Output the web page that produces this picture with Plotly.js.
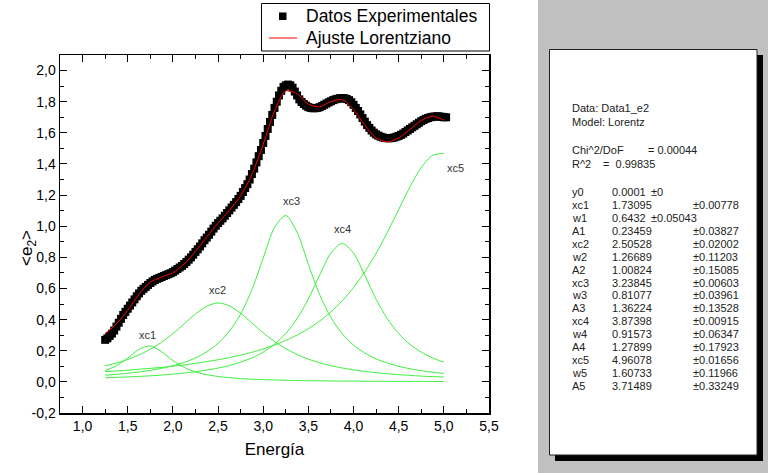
<!DOCTYPE html>
<html>
<head>
<meta charset="utf-8">
<script src="https://cdn.plot.ly/plotly-3.0.1.min.js"></script>
<style>
  html, body { margin: 0; padding: 0; background: #fff; }
  #plot { width: 768px; height: 473px; }
</style>
</head>
<body>
<div id="plot"></div>
<script>
// Experimental points (energy, <e2>), read every 0.025 eV
const xData = [
  1.25, 1.275, 1.30, 1.325, 1.35, 1.375, 1.40, 1.425, 1.45, 1.475,
  1.50, 1.525, 1.55, 1.575, 1.60, 1.625, 1.65, 1.675, 1.70, 1.725,
  1.75, 1.775, 1.80, 1.825, 1.85, 1.875, 1.90, 1.925, 1.95, 1.975,
  2.00, 2.025, 2.05, 2.075, 2.10, 2.125, 2.15, 2.175, 2.20, 2.225,
  2.25, 2.275, 2.30, 2.325, 2.35, 2.375, 2.40, 2.425, 2.45, 2.475,
  2.50, 2.525, 2.55, 2.575, 2.60, 2.625, 2.65, 2.675, 2.70, 2.725,
  2.75, 2.775, 2.80, 2.825, 2.85, 2.875, 2.90, 2.925, 2.95, 2.975,
  3.00, 3.025, 3.05, 3.075, 3.10, 3.125, 3.15, 3.175, 3.20, 3.225,
  3.25, 3.275, 3.30, 3.325, 3.35, 3.375, 3.40, 3.425, 3.45, 3.475,
  3.50, 3.525, 3.55, 3.575, 3.60, 3.625, 3.65, 3.675, 3.70, 3.725,
  3.75, 3.775, 3.80, 3.825, 3.85, 3.875, 3.90, 3.925, 3.95, 3.975,
  4.00, 4.025, 4.05, 4.075, 4.10, 4.125, 4.15, 4.175, 4.20, 4.225,
  4.25, 4.275, 4.30, 4.325, 4.35, 4.375, 4.40, 4.425, 4.45, 4.475,
  4.50, 4.525, 4.55, 4.575, 4.60, 4.625, 4.65, 4.675, 4.70, 4.725,
  4.75, 4.775, 4.80, 4.825, 4.85, 4.875, 4.90, 4.925, 4.95, 4.975,
  5.00, 5.025
];
const yData = [
  0.27, 0.28, 0.295, 0.31, 0.33, 0.355, 0.38, 0.405, 0.43, 0.45,
  0.47, 0.49, 0.51, 0.53, 0.55, 0.568, 0.585, 0.598, 0.61, 0.623,
  0.635, 0.645, 0.655, 0.662, 0.668, 0.674, 0.68, 0.686, 0.692, 0.698,
  0.705, 0.715, 0.725, 0.735, 0.745, 0.757, 0.77, 0.785, 0.80, 0.817,
  0.835, 0.852, 0.87, 0.89, 0.91, 0.927, 0.945, 0.965, 0.985, 1.003,
  1.02, 1.035, 1.05, 1.067, 1.085, 1.102, 1.12, 1.137, 1.155, 1.175,
  1.195, 1.22, 1.245, 1.27, 1.30, 1.335, 1.37, 1.41, 1.45, 1.49,
  1.535, 1.58, 1.625, 1.67, 1.715, 1.76, 1.80, 1.84, 1.87, 1.895,
  1.905, 1.91, 1.905, 1.89, 1.865, 1.84, 1.815, 1.798, 1.785, 1.774,
  1.765, 1.76, 1.758, 1.758, 1.76, 1.765, 1.772, 1.78, 1.788, 1.796,
  1.803, 1.81, 1.815, 1.819, 1.822, 1.823, 1.822, 1.817, 1.81, 1.797,
  1.78, 1.76, 1.74, 1.718, 1.695, 1.672, 1.65, 1.632, 1.615, 1.601,
  1.59, 1.582, 1.575, 1.57, 1.567, 1.565, 1.565, 1.567, 1.57, 1.575,
  1.58, 1.587, 1.595, 1.605, 1.615, 1.625, 1.635, 1.645, 1.655, 1.665,
  1.675, 1.683, 1.69, 1.695, 1.70, 1.703, 1.705, 1.706, 1.705, 1.703,
  1.70, 1.70
];

// Fit curve and the five Lorentz peaks, same energy grid
const xFit = [
  1.25, 1.375, 1.5, 1.625, 1.75, 1.875, 2.0, 2.125, 2.25, 2.375, 2.5,
  2.625, 2.75, 2.875, 3.0, 3.125, 3.25, 3.375, 3.5, 3.625, 3.75,
  3.875, 4.0, 4.125, 4.25, 4.375, 4.5, 4.625, 4.75, 4.875, 5.0
];
const yFit = [
  0.309, 0.373, 0.460, 0.562, 0.641, 0.673, 0.701, 0.757, 0.839, 0.931, 1.020,
  1.102, 1.196, 1.332, 1.526, 1.741, 1.869, 1.852, 1.784, 1.767, 1.801,
  1.813, 1.750, 1.647, 1.567, 1.542, 1.567, 1.622, 1.679, 1.707, 1.681
];
const peak1 = [
  0.072, 0.104, 0.153, 0.209, 0.231, 0.193, 0.137, 0.093, 0.064, 0.046, 0.035,
  0.027, 0.021, 0.017, 0.014, 0.012, 0.010, 0.009, 0.007, 0.007, 0.006,
  0.005, 0.005, 0.004, 0.004, 0.003, 0.003, 0.003, 0.003, 0.002, 0.002
];
const peak2 = [
  0.103, 0.121, 0.144, 0.173, 0.209, 0.255, 0.310, 0.373, 0.436, 0.486, 0.507,
  0.489, 0.441, 0.378, 0.315, 0.259, 0.213, 0.176, 0.146, 0.123, 0.104,
  0.089, 0.077, 0.067, 0.059, 0.052, 0.046, 0.042, 0.037, 0.034, 0.031
];
const peak3 = [
  0.043, 0.048, 0.055, 0.064, 0.074, 0.087, 0.104, 0.125, 0.154, 0.193, 0.248,
  0.325, 0.436, 0.593, 0.795, 0.992, 1.069, 0.961, 0.755, 0.560, 0.413,
  0.309, 0.236, 0.185, 0.148, 0.121, 0.100, 0.084, 0.072, 0.062, 0.054
];
const peak4 = [
  0.026, 0.029, 0.032, 0.035, 0.039, 0.044, 0.050, 0.057, 0.065, 0.076, 0.089,
  0.105, 0.127, 0.154, 0.191, 0.242, 0.311, 0.406, 0.533, 0.686, 0.828,
  0.889, 0.827, 0.684, 0.531, 0.405, 0.310, 0.241, 0.191, 0.154, 0.126
];
const peak5 = [
  0.066, 0.070, 0.075, 0.081, 0.087, 0.093, 0.101, 0.109, 0.119, 0.130, 0.142,
  0.156, 0.172, 0.190, 0.212, 0.237, 0.266, 0.301, 0.342, 0.391, 0.450,
  0.521, 0.606, 0.707, 0.826, 0.961, 1.107, 1.253, 1.377, 1.455, 1.468
];
const peakLabels = ['xc1', 'xc2', 'xc3', 'xc4', 'xc5'];
const seriesNames = ['Datos Experimentales', 'Ajuste Lorentziano'];

// Axis ticks
const xTickVals = [1.0, 1.5, 2.0, 2.5, 3.0, 3.5, 4.0, 4.5, 5.0, 5.5];
const xTickText = ['1,0', '1,5', '2,0', '2,5', '3,0', '3,5', '4,0', '4,5', '5,0', '5,5'];
const yTickVals = [-0.2, 0.0, 0.2, 0.4, 0.6, 0.8, 1.0, 1.2, 1.4, 1.6, 1.8, 2.0];
const yTickText = ['-0,2', '0,0', '0,2', '0,4', '0,6', '0,8', '1,0', '1,2', '1,4', '1,6', '1,8', '2,0'];

// Fit report text
const reportHeader = ['Data: Data1_e2', 'Model: Lorentz'];
const chiLabel = 'Chi^2/DoF';
const chiValue = '= 0.00044';
const r2Label = 'R^2';
const r2Value = '=  0.99835';
const paramNames = ['y0', 'xc1', 'w1', 'A1', 'xc2', 'w2', 'A2', 'xc3', 'w3', 'A3', 'xc4', 'w4', 'A4', 'xc5', 'w5', 'A5'];
const paramValues = ['0.0001', '1.73095', '0.6432', '0.23459', '2.50528', '1.26689', '1.00824', '3.23845',
  '0.81077', '1.36224', '3.87398', '0.91573', '1.27899', '4.96078', '1.60733', '3.71489'];
const paramErrors = ['±0', '±0.00778', '±0.05043', '±0.03827', '±0.02002', '±0.11203', '±0.15085', '±0.00603',
  '±0.03961', '±0.13528', '±0.00915', '±0.06347', '±0.17923', '±0.01656', '±0.11966', '±0.33249'];

const FONT = 'Liberation Sans, Arial, sans-serif';
const GREEN = '#3cf03c';

// pixel -> paper coordinates (plot area is 60..489 x 55..413)
function PX(x) { return (x - 60) / 429; }
function PY(y) { return (413 - y) / 358; }

let traces = [];
[peak1, peak2, peak3, peak4, peak5].forEach(function(p, i) {
  traces.push({x: xFit, y: p, type: 'scatter', mode: 'lines', name: peakLabels[i], showlegend: false,
    line: {color: GREEN, width: 1, shape: 'spline', smoothing: 0.8}});
});
traces.push({x: xData, y: yData, type: 'scatter', mode: 'markers', name: seriesNames[0], showlegend: false,
  marker: {symbol: 'square', size: 8, color: '#000'}});
traces.push({x: xFit, y: yFit, type: 'scatter', mode: 'lines', name: seriesNames[1], showlegend: false,
  line: {color: '#ff0000', width: 1, shape: 'spline', smoothing: 0.8}});

let annotations = [];
// peak labels
let labelPos = [[1.72, 0.30], [2.49, 0.59], [3.31, 1.165], [3.875, 0.98], [5.13, 1.375]];
peakLabels.forEach(function(t, i) {
  annotations.push({x: labelPos[i][0], y: labelPos[i][1], xref: 'x', yref: 'y', text: t,
    showarrow: false, font: {family: FONT, size: 11, color: '#333'}});
});

function paperText(text, x, y, size, color) {
  annotations.push({x: PX(x), y: PY(y), xref: 'paper', yref: 'paper', text: text,
    xanchor: 'left', yanchor: 'middle', showarrow: false,
    font: {family: FONT, size: size, color: color}});
}

// y axis title, placed where the original has it
annotations.push({x: PX(15), y: PY(248), xref: 'paper', yref: 'paper', text: '&lt;e<sub>2</sub>&gt;',
  textangle: -90, showarrow: false, font: {family: FONT, size: 17, color: '#000'}});

// legend (drawn by hand so the box keeps the original's compact size)
paperText(seriesNames[0], 304, 16, 17.5, '#000');
paperText(seriesNames[1], 304, 38, 17.5, '#000');

// fit report
function report(text, x, y) { paperText(text, x, y, 11, '#222'); }
report(reportHeader[0], 570, 108);
report(reportHeader[1], 570, 122);
report(chiLabel, 570, 150);
report(chiValue, 646, 150);
report(r2Label, 570, 164);
report(r2Value, 601, 164);
for (let i = 0; i < paramNames.length; ++i) {
  let y = 192 + i * 12.93;
  report(paramNames[i], 570, y);
  report(paramValues[i], 610, y);
  // short values keep the error on the first tab stop
  report(paramErrors[i], paramValues[i].length < 7 ? 649 : 691, y);
}

const shapes = [
  // right-hand report panel
  {type: 'rect', xref: 'paper', yref: 'paper', layer: 'below', x0: PX(538), x1: PX(770), y0: PY(475), y1: PY(-2),
    fillcolor: '#c0c0c0', line: {width: 0}},
  {type: 'rect', xref: 'paper', yref: 'paper', layer: 'below', x0: PX(555), x1: PX(763), y0: PY(461), y1: PY(55),
    fillcolor: '#000', line: {width: 0}},
  {type: 'rect', xref: 'paper', yref: 'paper', layer: 'below', x0: PX(549.5), x1: PX(757), y0: PY(455), y1: PY(49.5),
    fillcolor: '#fff', line: {color: '#222', width: 1}},
  // legend box and symbols
  {type: 'rect', xref: 'paper', yref: 'paper', x0: PX(261.5), x1: PX(489.5), y0: PY(51), y1: PY(3.5),
    fillcolor: 'rgba(0,0,0,0)', line: {color: '#000', width: 1}},
  {type: 'rect', xref: 'paper', yref: 'paper', x0: PX(279), x1: PX(286.5), y0: PY(20), y1: PY(12.5),
    fillcolor: '#000', line: {width: 0}},
  {type: 'line', xref: 'paper', yref: 'paper', x0: PX(269), x1: PX(297), y0: PY(38), y1: PY(38),
    line: {color: '#ff0000', width: 1}}
];

const axisCommon = {
  showgrid: false, zeroline: false, showline: true, linecolor: '#000', linewidth: 1.5,
  mirror: 'allticks', ticks: 'inside', ticklen: 7, tickwidth: 1, tickcolor: '#000',
  tickmode: 'array', tickfont: {family: FONT, size: 14, color: '#000'}
};

const layout = {
  width: 768, height: 473,
  margin: {l: 60, r: 279, t: 55, b: 60},
  paper_bgcolor: '#fff', plot_bgcolor: '#fff',
  font: {family: FONT},
  showlegend: false,
  xaxis: Object.assign({}, axisCommon, {
    range: [0.75, 5.5], tickvals: xTickVals, ticktext: xTickText,
    minor: {dtick: 0.25, tick0: 0.75, ticks: 'inside', ticklen: 4, tickcolor: '#000'},
    title: {text: 'Energía', font: {family: FONT, size: 17, color: '#000'}, standoff: 10}
  }),
  yaxis: Object.assign({}, axisCommon, {
    range: [-0.2, 2.1], tickvals: yTickVals, ticktext: yTickText,
    minor: {dtick: 0.1, tick0: 0, ticks: 'inside', ticklen: 4, tickcolor: '#000'}
  }),
  annotations: annotations,
  shapes: shapes
};

Plotly.newPlot('plot', traces, layout, {displayModeBar: false, staticPlot: true});
</script>
</body>
</html>
